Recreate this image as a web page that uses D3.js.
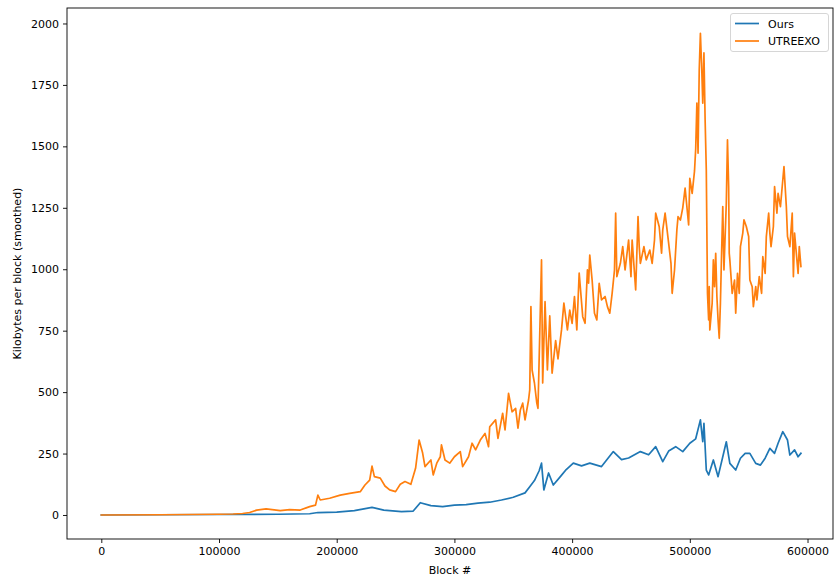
<!DOCTYPE html>
<html>
<head>
<meta charset="utf-8">
<script src="https://cdn.jsdelivr.net/npm/d3@7"></script>
<style>
  body { margin: 0; background: #fff; }
  svg { font-family: "DejaVu Sans", sans-serif; }
</style>
</head>
<body>
<script>
'use strict';

// block numbers and smoothed kilobytes per block
const oursBlocks = [0, 50000, 100000, 150000, 177000, 184000, 200000, 215000, 230000, 240000,
  255000, 265000, 271000, 280000, 290000, 300000, 310000, 320000, 330000, 340000,
  350000, 360000, 364000, 368000, 372000, 374000, 376000, 380000, 384000, 390000,
  395000, 401000, 408000, 415000, 425000, 435000, 442000, 448000, 458000, 465000,
  471000, 477000, 482000, 488000, 494000, 500000, 505000, 509000, 511000, 512000,
  514000, 516000, 520000, 524000, 528000, 531000, 534000, 539000, 543000, 547000,
  551000, 556000, 560000, 564000, 568000, 572000, 575000, 579000, 583000, 585000,
  589000, 592000, 594400];
const oursKB = [0, 1, 2, 3, 5, 10, 12, 18, 31, 20,
  14, 16, 50, 38, 34, 40, 42, 48, 52, 61,
  72, 90, 115, 140, 180, 211, 102, 171, 122, 156,
  185, 211, 200, 211, 197, 258, 225, 232, 258, 245,
  278, 217, 260, 278, 258, 292, 310, 387, 298, 373,
  183, 163, 224, 156, 237, 298, 210, 183, 231, 251,
  251, 210, 203, 231, 271, 251, 292, 339, 305, 244,
  265, 237, 251];

const utreexoBlocks = [0, 50000, 100000, 112000, 120000, 126000, 132000, 140000, 152000, 160000,
  169000, 177000, 182000, 184000, 186000, 194000, 203000, 211000, 220000, 224000,
  228000, 230000, 232000, 237000, 241000, 245000, 250000, 254000, 258000, 263000,
  267000, 270000, 273000, 275000, 280000, 282000, 285000, 288000, 289000, 292000,
  296000, 300000, 305000, 307000, 312000, 315000, 318000, 322000, 326000, 329000,
  330000, 335000, 337000, 341000, 343000, 346000, 349000, 352000, 354000, 356000,
  358000, 360000, 363000, 364000, 365000, 366000, 368000, 370000, 371000, 374000,
  375000, 377000, 379000, 381000, 383000, 386000, 388000, 391000, 393000, 396000,
  398000, 400000, 402000, 404000, 406000, 409000, 411000, 413000, 414000, 415000,
  417000, 419000, 421000, 423000, 425000, 428000, 430000, 432000, 434000, 436000,
  437000, 438000, 441000, 443000, 445000, 448000, 450000, 451000, 454000, 456000,
  457000, 458000, 461000, 463000, 466000, 468000, 470000, 471000, 474000, 476000,
  477000, 479000, 482000, 484000, 485000, 487000, 489000, 490000, 492000, 494000,
  496000, 498000, 499000, 500000, 502000, 504000, 505000, 506000, 507000, 508000,
  509000, 509500, 510000, 511000, 512000, 513000, 514000, 515000, 516000, 516500,
  517000, 519000, 520000, 521000, 522000, 523000, 524000, 525000, 526000, 527000,
  528000, 529000, 530000, 531000, 532000, 533000, 533500, 534000, 536000, 538000,
  539000, 540500, 542000, 543000, 545000, 546000, 548000, 550000, 551000, 553000,
  554000, 556000, 557000, 559000, 561000, 562000, 564000, 565000, 567000, 568000,
  569000, 571000, 572000, 574000, 575000, 577000, 578000, 580000, 582000, 583000,
  585000, 587000, 588000, 589000, 590000, 592000, 593000, 594400];
const utreexoKB = [0, 1, 3, 4, 6, 10, 20, 25, 18, 22,
  20, 34, 40, 81, 61, 68, 81, 88, 95, 122,
  142, 199, 156, 150, 118, 102, 95, 125, 136, 125,
  190, 305, 252, 197, 224, 163, 211, 237, 285, 224,
  211, 237, 258, 197, 237, 292, 265, 305, 332, 278,
  359, 387, 312, 414, 346, 495, 420, 434, 353, 427,
  455, 387, 468, 509, 848, 590, 537, 455, 434, 1038,
  537, 868, 590, 810, 577, 710, 635, 753, 862, 753,
  834, 780, 889, 753, 984, 807, 780, 997, 943, 1058,
  956, 821, 794, 943, 875, 889, 848, 821, 902, 997,
  1228, 970, 1024, 1092, 997, 1119, 970, 1119, 916, 1214,
  1092, 1024, 1092, 1038, 1078, 1024, 1119, 1228, 1173, 1065,
  1160, 1228, 1106, 1024, 902, 997, 1160, 1214, 1200, 1250,
  1330, 1230, 1180, 1370, 1309, 1400, 1490, 1676, 1472, 1811,
  1960, 1893, 1838, 1676, 1880, 1608, 1404, 902, 794, 929,
  753, 862, 1038, 929, 1065, 889, 794, 719, 862, 1065,
  1255, 997, 1133, 1269, 1526, 1336, 1065, 1038, 902, 956,
  821, 983, 902, 1092, 1147, 1201, 1174, 1133, 956, 929,
  848, 929, 875, 970, 902, 1051, 983, 1133, 1228, 1147,
  1092, 1174, 1336, 1228, 1309, 1255, 1309, 1418, 1255, 1133,
  1092, 1228, 970, 1147, 1092, 983, 1092, 1011];

const xTicks = [0, 100000, 200000, 300000, 400000, 500000, 600000];
const yTicks = [0, 250, 500, 750, 1000, 1250, 1500, 1750, 2000];
const seriesNames = ["Ours", "UTREEXO"];
const seriesColors = ["#1f77b4", "#ff7f0e"];

const width = 834, height = 580;
const plot = { left: 67, right: 833, top: 8, bottom: 539 };

const svg = d3.select('body').append('svg')
  .attr('width', width)
  .attr('height', height);

const x = d3.scaleLinear().domain([-29150, 621650]).range([plot.left, plot.right]);
const y = d3.scaleLinear().domain([-97.7, 2063]).range([plot.bottom, plot.top]);

// lines, Ours first so UTREEXO sits on top
const line = d3.line()
  .x(d => x(d[0]))
  .y(d => y(d[1]));

const series = [
  d3.zip(oursBlocks, oursKB),
  d3.zip(utreexoBlocks, utreexoKB)
];

series.forEach((pts, i) => {
  svg.append('path')
    .datum(pts)
    .attr('fill', 'none')
    .attr('stroke', seriesColors[i])
    .attr('stroke-width', 1.7)
    .attr('stroke-linejoin', 'round')
    .attr('stroke-linecap', 'square')
    .attr('d', line);
});

// axes
const xAxis = d3.axisBottom(x).tickValues(xTicks).tickFormat(d3.format('d'))
  .tickSize(4).tickPadding(4);
svg.append('g')
  .attr('transform', `translate(0, ${plot.bottom})`)
  .call(xAxis)
  .call(g => g.select('.domain').remove());

const yAxis = d3.axisLeft(y).tickValues(yTicks).tickFormat(d3.format('d'))
  .tickSize(4).tickPadding(4);
svg.append('g')
  .attr('transform', `translate(${plot.left}, 0)`)
  .call(yAxis)
  .call(g => g.select('.domain').remove());

svg.selectAll('.tick text')
  .style('font-size', '11px')
  .style('font-family', '"DejaVu Sans", sans-serif')
  .attr('fill', '#000');
svg.selectAll('.tick line').attr('stroke', '#000').attr('stroke-width', 0.9);

// frame
svg.append('rect')
  .attr('x', plot.left)
  .attr('y', plot.top)
  .attr('width', plot.right - plot.left)
  .attr('height', plot.bottom - plot.top)
  .attr('fill', 'none')
  .attr('stroke', '#000')
  .attr('stroke-width', 0.9);

// axis labels
svg.append('text')
  .attr('x', (plot.left + plot.right) / 2)
  .attr('y', 574)
  .attr('text-anchor', 'middle')
  .style('font-size', '11px')
  .text('Block #');

svg.append('text')
  .attr('transform', `translate(21, ${(plot.top + plot.bottom) / 2}) rotate(-90)`)
  .attr('text-anchor', 'middle')
  .style('font-size', '11px')
  .text('Kilobytes per block (smoothed)');

// legend
const legend = svg.append('g');
legend.append('rect')
  .attr('x', 730.5)
  .attr('y', 13.5)
  .attr('width', 98)
  .attr('height', 38)
  .attr('rx', 2.5)
  .attr('fill', '#fff')
  .attr('fill-opacity', 0.8)
  .attr('stroke', '#d6d6d6')
  .attr('stroke-width', 1);

seriesNames.forEach((name, i) => {
  const ly = 23.5 + i * 17.5;
  legend.append('line')
    .attr('x1', 735).attr('x2', 759)
    .attr('y1', ly).attr('y2', ly)
    .attr('stroke', seriesColors[i])
    .attr('stroke-width', 1.7);
  legend.append('text')
    .attr('x', 768)
    .attr('y', ly + 4)
    .style('font-size', '11px')
    .text(name);
});
</script>
</body>
</html>
